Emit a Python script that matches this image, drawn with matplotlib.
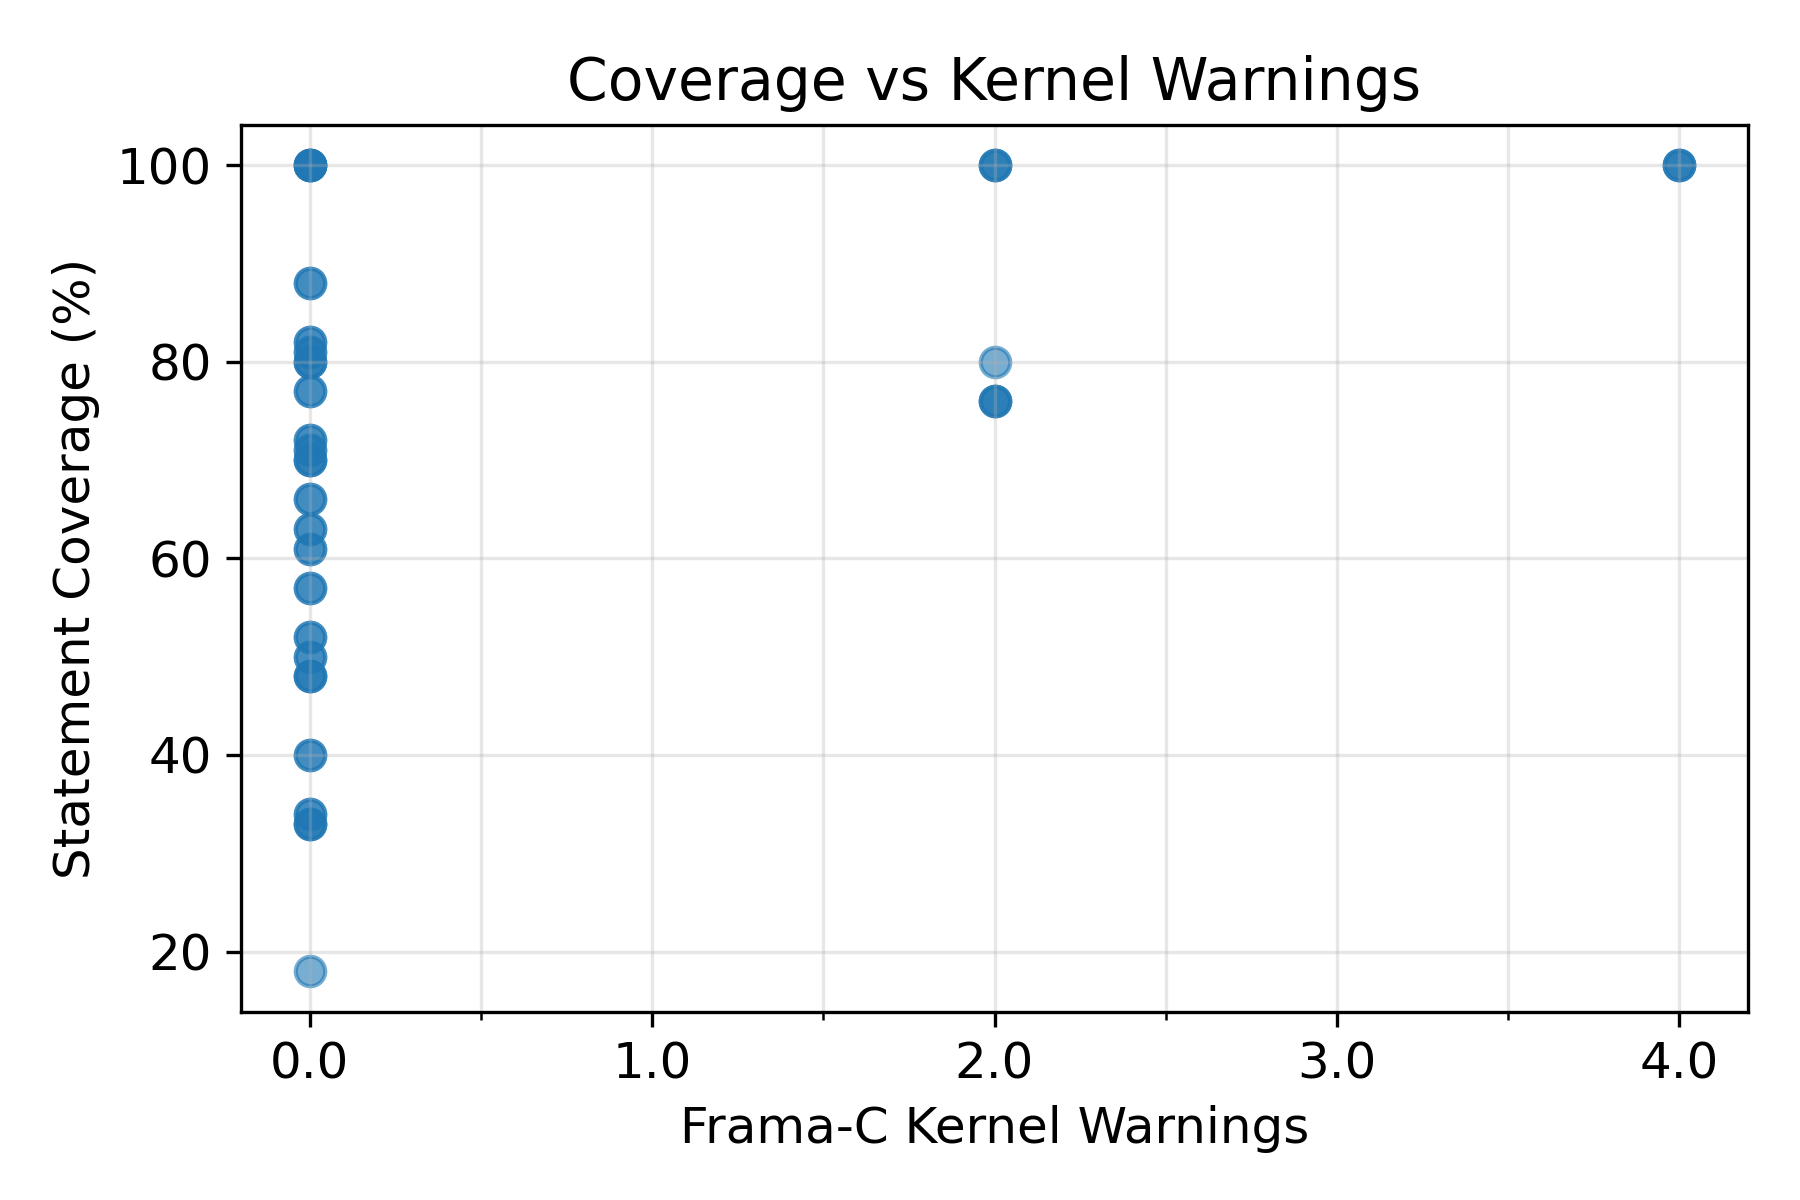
import matplotlib
matplotlib.use("Agg")
import matplotlib.pyplot as plt
from matplotlib.ticker import MultipleLocator, FormatStrFormatter

# kernel warnings vs statement coverage, one entry per test case
warnings = [0] * 46 + [2] * 7 + [4] * 3
coverage = [100, 100, 100, 100, 100, 88, 88, 82, 82, 81, 81, 80, 80, 80, 77, 77,
            72, 72, 71, 71, 70, 70, 70, 66, 66, 63, 63, 61, 61, 57, 57, 52, 52,
            50, 50, 48, 48, 48, 40, 40, 34, 34, 33, 33, 33, 18,
            100, 100, 100, 80, 76, 76, 76,
            100, 100, 100]

fig, ax = plt.subplots(figsize=(6, 4), dpi=300)

ax.scatter(warnings, coverage, color='#1f77b4', alpha=0.6, s=50)

ax.set_title('Coverage vs Kernel Warnings', fontsize=14)
ax.set_xlabel('Frama-C Kernel Warnings', fontsize=12)
ax.set_ylabel('Statement Coverage (%)', fontsize=12)
ax.tick_params(labelsize=12)

ax.xaxis.set_major_locator(MultipleLocator(1.0))
ax.xaxis.set_minor_locator(MultipleLocator(0.5))
ax.xaxis.set_major_formatter(FormatStrFormatter('%.1f'))
ax.yaxis.set_major_locator(MultipleLocator(20))
ax.set_xlim(-0.2, 4.2)

ax.grid(True, which='both', alpha=0.3)

fig.subplots_adjust(left=0.134, right=0.971, top=0.896, bottom=0.157)
plt.savefig('out.png')
